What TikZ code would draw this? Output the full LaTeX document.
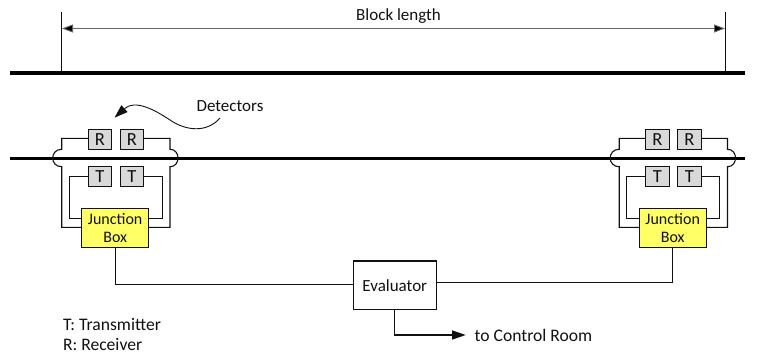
\documentclass[tikz,border=0pt]{standalone}
\usepackage{fontspec}
\setmainfont{Carlito}
\usetikzlibrary{arrows.meta,calc}
\definecolor{ink}{HTML}{111111}
\definecolor{jy}{HTML}{FFFF66}
\tikzset{
  wire/.style={draw=ink,line width=1.1pt,line join=miter},
  rail/.style={draw=black,line width=3.2pt},
  thin wire/.style={draw=ink,line width=0.9pt},
  tip/.style={-{Triangle[length=13.5pt,width=9pt]}},
  det/.style={draw=ink,line width=1.1pt,fill=black!15,minimum width=23.5pt,minimum height=20.5pt,inner sep=0pt,outer sep=0pt},
  jbox/.style={draw=ink,line width=1.1pt,fill=jy,minimum width=67pt,minimum height=39.5pt,inner sep=0pt,outer sep=0pt,align=center},
  ebox/.style={draw=ink,line width=1.1pt,fill=white,minimum width=82.5pt,minimum height=48.5pt,inner sep=0pt,outer sep=0pt},
  lbl/.style={inner sep=0pt,outer sep=0pt,font=\fontsize{17}{20}\selectfont,text=ink},
  lblw/.style={lbl,font=\fontsize{17.6}{20}\selectfont},
}
\newcommand{\detunit}[2]{%
  \begin{scope}[shift={(#2,0)}]
    \node[det,lbl,font=\fontsize{18.5}{20}\selectfont] (#1r1) at (100,139.3) {R};
    \node[det,lbl,font=\fontsize{18.5}{20}\selectfont] (#1r2) at (131.8,139.3) {R};
    \node[det,lbl,font=\fontsize{18.5}{20}\selectfont] (#1t1) at (100,176.5) {T};
    \node[det,lbl,font=\fontsize{18.5}{20}\selectfont] (#1t2) at (131.8,176.5) {T};
    \node[jbox,lbl,font=\fontsize{16}{18.5}\selectfont] (#1j) at (115.2,228) {Junction\\Box};
    \coordinate (#1lo) at (61.7,138.3);
    \coordinate (#1ro) at (170,138.3);
    \coordinate (#1li) at (69.3,176.5);
    \coordinate (#1ri) at (162.3,176.5);
    \draw[wire] (#1r1.west |- #1lo) -- (#1lo) -- (61.7,149.3)
      .. controls (49.7,149.3) and (49.7,166.7) .. (61.7,166.7)
      -- (61.7,227.3) -- (#1j.west |- 0,227.3);
    \draw[wire] (#1r2.east |- #1ro) -- (#1ro) -- (170,149.3)
      .. controls (180.7,149.3) and (180.7,166.7) .. (170,166.7)
      -- (170,227.3) -- (#1j.east |- 0,227.3);
    \draw[wire] (#1t1.west) -- (#1li) -- (69.3,218.3) -- (#1j.west |- 0,218.3);
    \draw[wire] (#1t2.east) -- (#1ri) -- (162.3,218.3) -- (#1j.east |- 0,218.3);
  \end{scope}}
\begin{document}
\begin{tikzpicture}[x=1pt,y=-1pt]
  \useasboundingbox (0,0) rectangle (758,354);
  \coordinate (railAw) at (10,73); \coordinate (railAe) at (745,73);
  \coordinate (railBw) at (10,158.3); \coordinate (railBe) at (745,158.3);
  \coordinate (dimLt) at (61.5,12); \coordinate (dimRt) at (725.5,12);
  \coordinate (dimLb) at (61.5,73); \coordinate (dimRb) at (725.5,73);
  \coordinate (dimL) at (62,28.5); \coordinate (dimR) at (725,28.5);
  \draw[thin wire] (dimLt) -- (dimLb);
  \draw[thin wire] (dimRt) -- (dimRb);
  \draw[rail] (railAw) -- (railAe);
  \draw[rail] (railBw) -- (railBe);
  \draw[draw=black!60,line width=0.9pt,{Triangle[length=11pt,width=8pt,fill=black]}-{Triangle[length=11pt,width=8pt,fill=black]}] (dimL) -- (dimR);
  \node[lbl] (blk) at (398.5,16.5) {Block length};
  \detunit{a}{0}
  \detunit{b}{557.5}
  \node[ebox,lbl] (ev) at (394.8,285.2) {Evaluator};
  \draw[wire] (aj.south) |- (ev.west |- 0,284.5);
  \draw[wire] (bj.south) |- (ev.east |- 0,282.5);
  \coordinate (ctl) at (465.7,335);
  \node[lblw,anchor=west] (ctrl) at (474.7,335) {to Control Room};
  \draw[wire,tip] (ev.south -| 394.3,0) |- (ctl);
  \node[lblw,anchor=west] (lgT) at (63,324.5) {T: Transmitter};
  \node[lblw,anchor=west] (lgR) at (63,344.5) {R: Receiver};
  \node[lbl] (dets) at (230,106) {Detectors};
  \coordinate (detsFrom) at (220,118);
  \coordinate (detsTo) at (114.5,117.7);
  \draw[draw=ink,line width=0.9pt,tip] (detsFrom) .. controls (207,133) and (186,131) .. (170,120)
     .. controls (155,110) and (135,99) .. (detsTo);
\end{tikzpicture}
\end{document}
